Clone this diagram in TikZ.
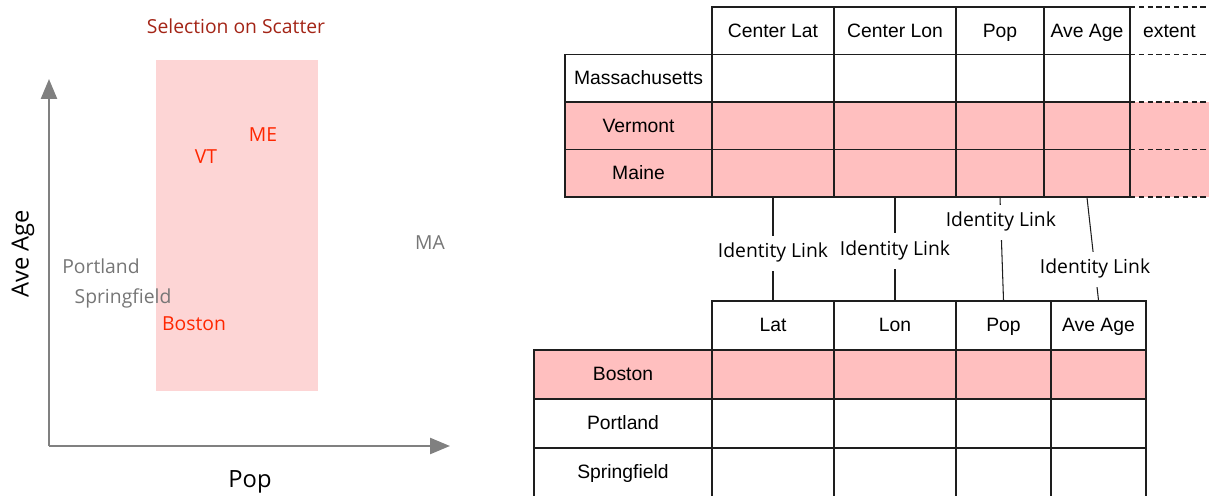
\documentclass[tikz,border=0pt]{standalone}
\usepackage{fontspec}
\setmainfont{Open Sans}
\newfontfamily\tabfont{Liberation Sans}
\usepackage{tikz}
\usetikzlibrary{arrows.meta,positioning}
\usepackage{xcolor}
\definecolor{selpink}{RGB}{253,213,213}
\definecolor{rowpink}{RGB}{255,191,191}
\definecolor{hitred}{RGB}{255,38,0}
\definecolor{titlered}{RGB}{163,36,22}
\definecolor{dotgray}{RGB}{118,118,118}
\definecolor{axisgray}{RGB}{128,128,128}
\definecolor{tabline}{RGB}{30,30,30}
\tikzstyle{cell} = [rectangle, draw=tabline, line width=0.75pt, inner sep=0pt, text height=0.72em, text depth=0em, font=\tabfont\fontsize{11}{13}\selectfont]
\tikzstyle{hit} = [cell, fill=rowpink]
\tikzstyle{link} = [fill=white, inner xsep=1pt, inner ysep=5pt, text height=0.75em, text depth=0.25em, font=\fontsize{11}{13}\selectfont]
\tikzstyle{linkline} = [draw=tabline, line width=0.6pt]
\tikzstyle{axis} = [axisgray, line width=1.4pt, -{Triangle[length=0.4cm,width=0.32cm]}]
\tikzstyle{pt} = [font=\fontsize{11}{13}\selectfont]

\begin{document}
\begin{tikzpicture}[x=0.02cm, y=-0.02cm]
\useasboundingbox (0,0) rectangle (1209,496);

% Scatter
\fill[selpink] (156,60) rectangle (318,391);
\coordinate (origin) at (49,446);
\draw[axis] (origin) -- (49,79);
\draw[axis] (origin) -- (450,446);
\node (title) [pt, text=titlered] at (236,26) {Selection on Scatter};
\node (yaxis) [rotate=90, font=\fontsize{13.5}{16}\selectfont] at (23,254) {Ave Age};
\node (xaxis) [font=\fontsize{13.5}{16}\selectfont] at (250,482) {Pop};
\node (vt) [pt, text=hitred] at (206,157) {VT};
\node (me) [pt, text=hitred] at (263,135) {ME};
\node (bos) [pt, text=hitred] at (194,324) {Boston};
\node (ma) [pt, text=dotgray] at (430,243) {MA};
\node (port) [pt, text=dotgray] at (101,266) {Portland};
\node (spr) [pt, text=dotgray] at (123,298) {Springfield};

% State table
\fill[rowpink] (1130,102) rectangle (1209,197);
\node (ext) [cell, draw=none] at (1169.5,30.75) {extent};
\draw[tabline, line width=0.7pt, dash pattern=on 3pt off 2pt]
  (1130,7) -- (1209,7) (1130,54.5) -- (1209,54.5) (1130,102) -- (1209,102)
  (1130,149.5) -- (1209,149.5) (1130,197) -- (1209,197);
\foreach \c/\x/\w/\t in {clat/773/2.44/Center Lat, clon/895/2.44/Center Lon, pop/1000/1.76/Pop, age/1087/1.72/Ave Age} {
  \node (h-\c) [cell, minimum width=\w cm, minimum height=0.95cm] at (\x,30.75) {\t};
  \node (ma-\c) [cell, minimum width=\w cm, minimum height=0.95cm] at (\x,78.25) {};
  \node (vt-\c) [hit, minimum width=\w cm, minimum height=0.95cm] at (\x,125.75) {};
  \node (me-\c) [hit, minimum width=\w cm, minimum height=0.95cm] at (\x,173.25) {};
}
\node (ma-name) [cell, minimum width=2.94cm, minimum height=0.95cm] at (638.5,78.25) {Massachusetts};
\node (vt-name) [hit, minimum width=2.94cm, minimum height=0.95cm] at (638.5,125.75) {Vermont};
\node (me-name) [hit, minimum width=2.94cm, minimum height=0.95cm] at (638.5,173.25) {Maine};

% City table
\foreach \c/\x/\w/\t in {lat/773/2.44/Lat, lon/895/2.44/Lon, pop/1003.5/1.9/Pop, age/1098.5/1.9/Ave Age} {
  \node (b-\c) [cell, minimum width=\w cm, minimum height=0.98cm] at (\x,325.5) {\t};
  \node (bos-\c) [hit, minimum width=\w cm, minimum height=0.98cm] at (\x,374.5) {};
  \node (por-\c) [cell, minimum width=\w cm, minimum height=0.98cm] at (\x,423.5) {};
  \node (spr-\c) [cell, minimum width=\w cm, minimum height=0.98cm] at (\x,472.5) {};
}
\node (bos-name) [hit, minimum width=3.56cm, minimum height=0.98cm] at (623,374.5) {Boston};
\node (por-name) [cell, minimum width=3.56cm, minimum height=0.98cm] at (623,423.5) {Portland};
\node (spr-name) [cell, minimum width=3.56cm, minimum height=0.98cm] at (623,472.5) {Springfield};

% Links
\draw[linkline] (me-clat.south) -- node[link, pos=0.54] {Identity Link} (b-lat.north);
\draw[linkline] (me-clon.south) -- node[link, pos=0.52] {Identity Link} (b-lon.north);
\draw[linkline] (me-pop.south) -- node[link, pos=0.24] {Identity Link} (b-pop.north);
\draw[linkline] (me-age.south) -- node[link, pos=0.70] {Identity Link} (b-age.north);
\end{tikzpicture}
\end{document}
